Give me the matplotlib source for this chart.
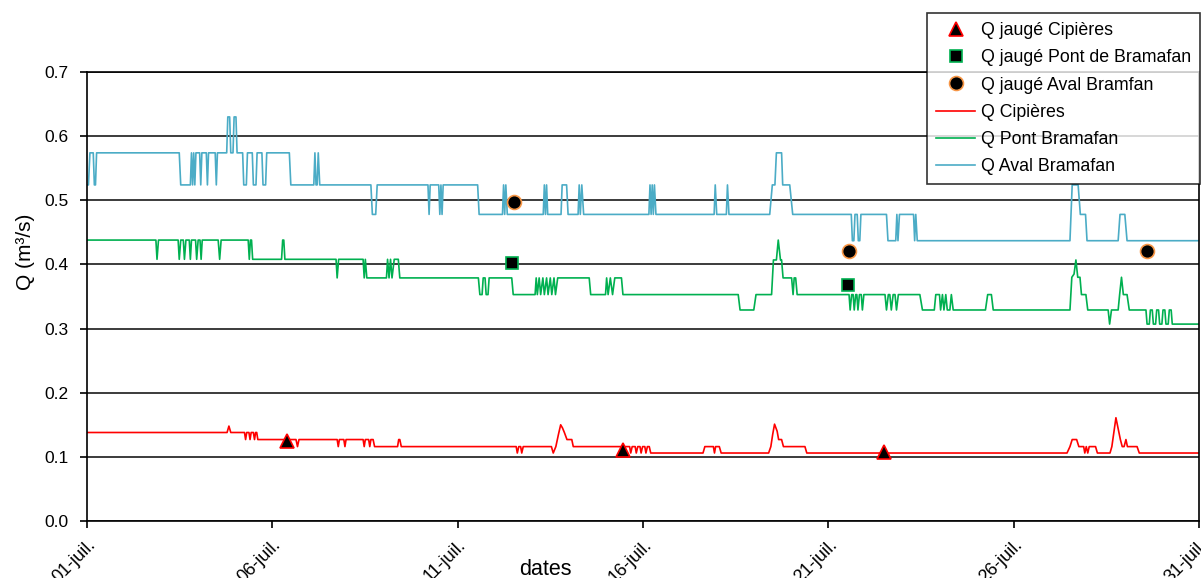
import numpy as np
import matplotlib
matplotlib.use("Agg")
import matplotlib.pyplot as plt

plt.rcParams['font.family'] = ['Liberation Sans', 'DejaVu Sans']

# jours depuis le 01-juil., debits en m3/s
cip = [(0, .138), (3.78, .138), (3.83, .148), (3.88, .138),
       (4.25, .138), (4.28, .127), (4.31, .138), (4.37, .138), (4.40, .127), (4.43, .138),
       (4.49, .138), (4.52, .127), (4.55, .138), (4.58, .138), (4.61, .127),
       (5.64, .127), (5.68, .116), (5.72, .127),
       (6.75, .127), (6.78, .116), (6.81, .127), (6.93, .127), (6.96, .116), (6.99, .127),
       (7.45, .127), (7.48, .116), (7.51, .127), (7.60, .127), (7.63, .116), (7.66, .127),
       (7.72, .127), (7.76, .116),
       (8.38, .116), (8.41, .127), (8.44, .127), (8.48, .116),
       (11.58, .116), (11.61, .106), (11.65, .116), (11.70, .116), (11.73, .106), (11.77, .116),
       (12.53, .116), (12.58, .106), (12.65, .116), (12.72, .135), (12.78, .150), (12.83, .145),
       (12.88, .138), (12.95, .127), (13.08, .127), (13.12, .116),
       (14.64, .116), (14.67, .106), (14.71, .116), (14.79, .116), (14.82, .106), (14.86, .116),
       (14.92, .116), (14.95, .106), (14.99, .116), (15.05, .116), (15.08, .106), (15.12, .116),
       (15.17, .116), (15.21, .106),
       (16.62, .106), (16.67, .116), (16.90, .116), (16.93, .106), (16.96, .116), (17.06, .116),
       (17.11, .106),
       (18.39, .106), (18.45, .116), (18.50, .135), (18.55, .151), (18.62, .140), (18.66, .127),
       (18.74, .127), (18.79, .116), (19.37, .116), (19.42, .106),
       (26.44, .106), (26.52, .116), (26.58, .127), (26.70, .127), (26.76, .116), (26.89, .116),
       (26.92, .106), (26.96, .116), (27.00, .106), (27.04, .116), (27.21, .116), (27.26, .106),
       (27.60, .106), (27.65, .116), (27.76, .161), (27.88, .127), (27.93, .116), (27.98, .116),
       (28.03, .127), (28.07, .116), (28.33, .116), (28.39, .106), (30, .106)]

pont = [(0, .438), (1.86, .438), (1.89, .408), (1.93, .438),
        (2.46, .438), (2.49, .408), (2.53, .438), (2.60, .438), (2.63, .408), (2.67, .438),
        (2.76, .438), (2.79, .408), (2.82, .438), (2.93, .438), (2.96, .408), (3.00, .438),
        (3.05, .438), (3.08, .408), (3.11, .438),
        (3.54, .438), (3.58, .408), (3.62, .438),
        (4.35, .438), (4.38, .408), (4.41, .438), (4.44, .438), (4.47, .408),
        (5.25, .408), (5.28, .438), (5.31, .438), (5.34, .408),
        (6.72, .408), (6.75, .379), (6.79, .408),
        (7.45, .408), (7.48, .379), (7.51, .408), (7.55, .379),
        (8.08, .379), (8.11, .408), (8.15, .379), (8.19, .408), (8.23, .379), (8.29, .408),
        (8.40, .408), (8.44, .379),
        (10.56, .379), (10.60, .353), (10.66, .353), (10.69, .379), (10.74, .379), (10.77, .353),
        (10.82, .353), (10.85, .379),
        (11.46, .379), (11.50, .353),
        (12.09, .353), (12.12, .379), (12.15, .353), (12.20, .379), (12.24, .353), (12.30, .379),
        (12.34, .353), (12.40, .379), (12.44, .353), (12.50, .379), (12.54, .353), (12.60, .379),
        (12.64, .353), (12.70, .379),
        (13.55, .379), (13.59, .353),
        (13.99, .353), (14.02, .379), (14.06, .353), (14.12, .379), (14.18, .353), (14.24, .379),
        (14.42, .379), (14.46, .353),
        (17.57, .353), (17.62, .329), (17.99, .329), (18.05, .353),
        (18.47, .353), (18.52, .407), (18.60, .407), (18.65, .438), (18.71, .407), (18.74, .407),
        (18.78, .379), (19.01, .379), (19.05, .353), (19.08, .379), (19.12, .379), (19.16, .353),
        (20.56, .353), (20.59, .329), (20.63, .353), (20.67, .353), (20.70, .329), (20.74, .353),
        (20.77, .353), (20.80, .329), (20.84, .353), (20.89, .353), (20.92, .329), (20.96, .353),
        (21.53, .353), (21.57, .329), (21.62, .353), (21.66, .353), (21.70, .329), (21.75, .353),
        (21.80, .353), (21.84, .329), (21.89, .353),
        (22.47, .353), (22.54, .329), (22.86, .329), (22.90, .353), (23.00, .353), (23.03, .329),
        (23.08, .353), (23.12, .329), (23.17, .353), (23.21, .329), (23.28, .329), (23.32, .353),
        (23.37, .329),
        (24.24, .329), (24.30, .353), (24.40, .353), (24.45, .329),
        (26.52, .329), (26.57, .380), (26.63, .385), (26.68, .407), (26.73, .380), (26.79, .380),
        (26.83, .353), (26.95, .353), (27.00, .329),
        (27.55, .329), (27.59, .307), (27.64, .329),
        (27.82, .329), (27.86, .353), (27.91, .380), (27.96, .353), (28.06, .353), (28.12, .329),
        (28.57, .329), (28.60, .307), (28.66, .307), (28.69, .329), (28.74, .329), (28.77, .307),
        (28.83, .307), (28.86, .329), (28.91, .329), (28.94, .307), (29.00, .307), (29.03, .329),
        (29.08, .329), (29.11, .307), (29.17, .307), (29.20, .329), (29.25, .329), (29.28, .307),
        (30, .307)]

aval = [(0, .524), (0.04, .524), (0.08, .574), (0.17, .574), (0.20, .524), (0.23, .524),
        (0.26, .574),
        (2.49, .574), (2.53, .524), (2.79, .524), (2.82, .574), (2.85, .524), (2.88, .574),
        (2.91, .524), (2.94, .574), (3.04, .574), (3.07, .524), (3.10, .574), (3.22, .574),
        (3.25, .524), (3.28, .574), (3.46, .574), (3.49, .524), (3.52, .574),
        (3.77, .574), (3.80, .630), (3.85, .630), (3.88, .574), (3.94, .574), (3.97, .630),
        (4.02, .630), (4.05, .574),
        (4.20, .574), (4.23, .524), (4.30, .524), (4.33, .574), (4.46, .574), (4.49, .524),
        (4.56, .524), (4.59, .574), (4.72, .574), (4.75, .524), (4.82, .524), (4.85, .574),
        (5.46, .574), (5.50, .524),
        (6.12, .524), (6.15, .574), (6.18, .524), (6.21, .524), (6.24, .574), (6.28, .524),
        (7.66, .524), (7.70, .478), (7.79, .478), (7.83, .524),
        (9.20, .524), (9.23, .478), (9.26, .524), (9.49, .524), (9.52, .478), (9.55, .524),
        (9.58, .478), (9.61, .524),
        (10.54, .524), (10.58, .478),
        (11.21, .478), (11.24, .524), (11.27, .478), (11.30, .524), (11.34, .478),
        (12.31, .478), (12.34, .524), (12.37, .478), (12.40, .524), (12.43, .478),
        (12.79, .478), (12.82, .524), (12.94, .524), (12.98, .478),
        (13.25, .478), (13.28, .524), (13.31, .478), (13.35, .524), (13.40, .478),
        (15.16, .478), (15.19, .524), (15.22, .478), (15.25, .524), (15.28, .478), (15.31, .524),
        (15.35, .478),
        (16.92, .478), (16.95, .524), (16.99, .478), (17.25, .478), (17.28, .524), (17.32, .478),
        (18.42, .478), (18.49, .524), (18.56, .524), (18.60, .574), (18.74, .574), (18.77, .524),
        (18.96, .524), (19.04, .478),
        (20.62, .478), (20.65, .437), (20.69, .437), (20.72, .478), (20.78, .478), (20.81, .437),
        (20.85, .437), (20.88, .478),
        (21.57, .478), (21.61, .437), (21.82, .437), (21.85, .478), (21.88, .437), (21.92, .478),
        (22.30, .478), (22.33, .437), (22.36, .478), (22.40, .437),
        (26.52, .437), (26.58, .524), (26.74, .524), (26.80, .478), (26.94, .478), (26.98, .437),
        (27.82, .437), (27.87, .478), (28.00, .478), (28.06, .437),
        (30, .437)]

# jaugeages
jauge_cip = [(5.41, .124), (14.45, .111), (21.51, .108)]
jauge_pont = [(11.46, .402), (20.54, .368)]
jauge_aval = [(11.53, .497), (20.56, .421), (28.59, .421)]

tick_days = [0, 5, 10, 15, 20, 25, 30]
tick_labels = ['01-juil.', '06-juil.', '11-juil.', '16-juil.', '21-juil.', '26-juil.', '31-juil.']

fig = plt.figure(figsize=(12.01, 5.78), dpi=100)
ax = fig.add_axes([0.0724, 0.0986, 0.9259, 0.7768])

t, q = np.array(cip).T
l1, = ax.plot(t, q, color='#ff0000', lw=1.2)
t, q = np.array(pont).T
l2, = ax.plot(t, q, color='#00b050', lw=1.2)
t, q = np.array(aval).T
l3, = ax.plot(t, q, color='#4bacc6', lw=1.2)

t, q = np.array(jauge_cip).T
m1, = ax.plot(t, q, '^', ms=10, mfc='black', mec='#ff0000', mew=1.2, zorder=5)
t, q = np.array(jauge_pont).T
m2, = ax.plot(t, q, 's', ms=8.5, mfc='black', mec='#00b050', mew=1.2, zorder=5)
t, q = np.array(jauge_aval).T
m3, = ax.plot(t, q, 'o', ms=10, mfc='black', mec='#f79646', mew=1.2, zorder=5)

ax.set_xlim(0, 30)
ax.set_ylim(0, 0.7)
ax.set_yticks(np.arange(0, 0.71, 0.1))
ax.set_yticklabels(['%.1f' % v for v in np.arange(0, 0.71, 0.1)], fontsize=12.5)
ax.set_xticks(tick_days)
ax.set_xticklabels(tick_labels, rotation=45, ha='right', rotation_mode='anchor', fontsize=13)
ax.tick_params(direction='out', length=5, width=1.2, color='black', pad=6)
ax.tick_params(axis='y', pad=8)
ax.grid(axis='y', color='#1a1a1a', lw=1.2)
ax.set_axisbelow(True)
for s in ax.spines.values():
    s.set_color('black')
    s.set_linewidth(1.2)

ax.set_ylabel('Q (m³/s)', fontsize=15)
ax.yaxis.set_label_coords(-0.047, 0.6)
ax.set_xlabel('dates', fontsize=15.5)
ax.xaxis.set_label_coords(0.412, -0.085)

leg = fig.legend([m1, m2, m3, l1, l2, l3],
                 ['Q jaugé Cipières', 'Q jaugé Pont de Bramafan', 'Q jaugé Aval Bramfan',
                  'Q Cipières', 'Q Pont Bramafan', 'Q Aval Bramafan'],
                 loc='upper right', bbox_to_anchor=(0.9995, 0.9775), fontsize=12.8,
                 frameon=True, fancybox=False, borderpad=0.5, labelspacing=0.58,
                 handlelength=2.2, handletextpad=0.35, borderaxespad=0)
leg.get_frame().set_edgecolor('black')
leg.get_frame().set_linewidth(1.2)
leg.set_zorder(10)

fig.savefig('out.png', dpi=100)
